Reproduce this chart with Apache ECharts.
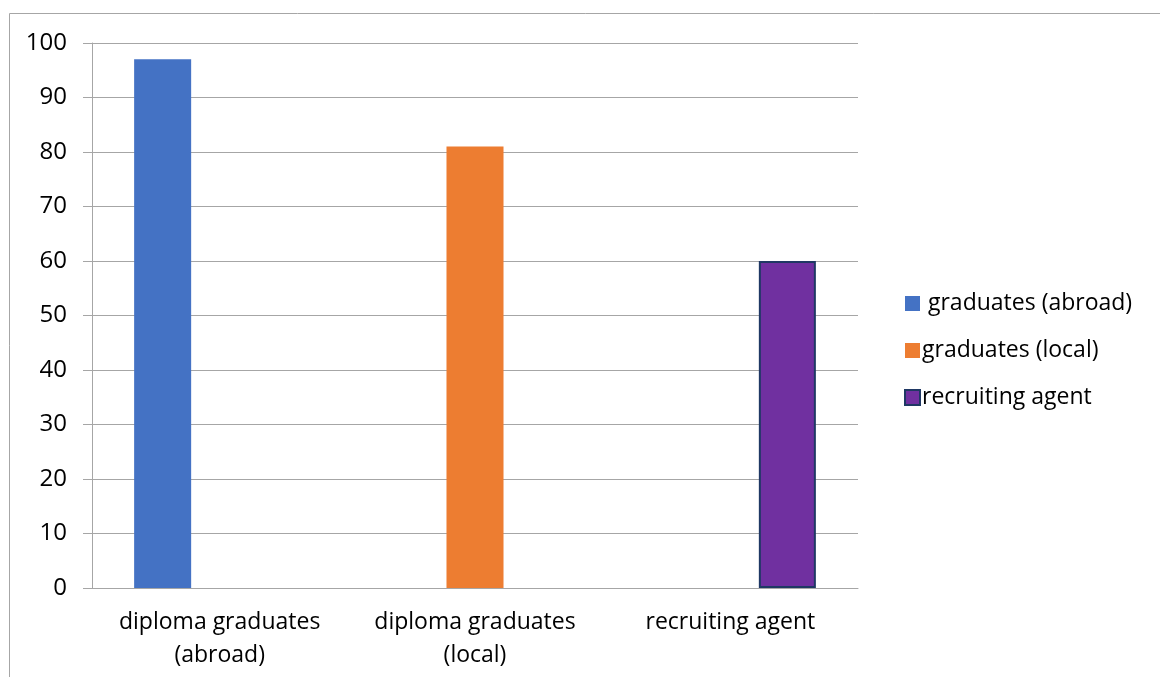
<!DOCTYPE html>
<html>
<head>
<meta charset="utf-8">
<script src="https://cdn.jsdelivr.net/npm/echarts@6/dist/echarts.min.js"></script>
<style>
  html, body { margin: 0; padding: 0; background: #fff; }
  #chart { width: 1160px; height: 677px; }
</style>
</head>
<body>
<div id="chart"></div>
<script>
// categories on the x axis
const categories = ['diploma graduates\n(abroad)', 'diploma graduates\n(local)', 'recruiting agent']
// series values (one bar per category)
const abroadValues = [97, null, null]
const localValues = [null, 81, null]
const agentValues = [null, null, 60]
const seriesNames = [' graduates (abroad)', 'graduates (local)', 'recruiting agent']
// y ticks 0..100 step 10
const yMin = 0
const yMax = 100
const yStep = 10

const font = '"Open Sans", sans-serif'
const myChart = echarts.init(document.getElementById('chart'))
myChart.setOption({
  animation: false,
  textStyle: { fontFamily: font },
  // outer frame of the chart area
  graphic: [{
    type: 'rect',
    shape: { x: 9.5, y: 13.5, width: 1200, height: 700 },
    style: { fill: 'none', stroke: '#a6a6a6', lineWidth: 1 },
    silent: true
  }],
  grid: { left: 92, right: 302, top: 43, bottom: 89 },
  legend: {
    orient: 'vertical',
    left: 899,
    top: 286,
    itemWidth: 15,
    itemHeight: 15,
    itemGap: 22,
    icon: 'rect',
    textStyle: { fontSize: 23, color: '#000', fontFamily: font, lineHeight: 25, padding: [0, 0, 0, -3] },
    data: seriesNames
  },
  xAxis: {
    type: 'category',
    data: categories,
    axisLine: { lineStyle: { color: '#a6a6a6' } },
    axisTick: { alignWithLabel: false, length: 9, lineStyle: { color: '#a6a6a6' } },
    axisLabel: { interval: 0, hideOverlap: false, fontSize: 23, color: '#000', margin: 18, lineHeight: 33, fontFamily: font }
  },
  yAxis: {
    type: 'value',
    min: yMin,
    max: yMax,
    interval: yStep,
    axisLine: { show: true, lineStyle: { color: '#a6a6a6' } },
    axisTick: { show: true, length: 9, lineStyle: { color: '#a6a6a6' } },
    splitLine: { lineStyle: { color: '#a6a6a6' } },
    axisLabel: { fontSize: 24, color: '#000', margin: 25, fontFamily: font }
  },
  series: [
    {
      name: seriesNames[0],
      type: 'bar',
      barGap: '0%',
      barCategoryGap: '33%',
      itemStyle: { color: '#4472C4' },
      data: abroadValues
    },
    {
      name: seriesNames[1],
      type: 'bar',
      barGap: '0%',
      barCategoryGap: '33%',
      itemStyle: { color: '#ED7D31' },
      data: localValues
    },
    {
      name: seriesNames[2],
      type: 'bar',
      barGap: '0%',
      barCategoryGap: '33%',
      itemStyle: { color: '#7030A0', borderColor: '#1F3864', borderWidth: 2 },
      data: agentValues
    }
  ]
})
</script>
</body>
</html>
